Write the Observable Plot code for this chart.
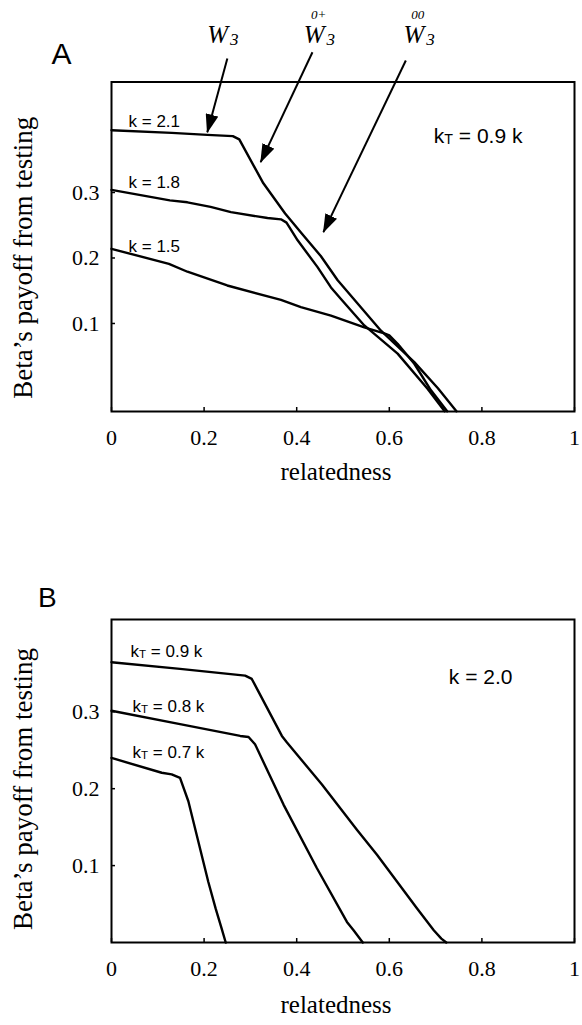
<!DOCTYPE html>
<html><head><meta charset="utf-8">
<script src="https://cdn.jsdelivr.net/npm/d3@7"></script>
<script src="https://cdn.jsdelivr.net/npm/@observablehq/plot@0.6"></script>
<style>
html,body{margin:0;padding:0;background:#fff;}
#chart svg{display:block;}
</style></head><body><div id="chart"></div>
<script>
// ---- tick labels ----
const xTicks = [0, 0.2, 0.4, 0.6, 0.8, 1];
const yTicks = [0.1, 0.2, 0.3];
const xTitle = "relatedness";
const yTitle = "Beta’s payoff from testing";

// ---- Panel A (kT = 0.9 k) : [relatedness, payoff] ----
const labelsA = ["k = 2.1", "k = 1.8", "k = 1.5"];
const aK21 = [[0,0.395],[0.13,0.391],[0.207,0.388],[0.262,0.386],[0.276,0.381],[0.328,0.314],[0.375,0.268],[0.41,0.238],[0.452,0.203],[0.4885,0.166],[0.582,0.089],[0.654,0.041],[0.705,0.001],[0.745,-0.034]];
const aK18 = [[0,0.304],[0.126,0.288],[0.164,0.285],[0.214,0.278],[0.258,0.270],[0.337,0.261],[0.366,0.259],[0.378,0.254],[0.402,0.227],[0.445,0.186],[0.474,0.155],[0.496,0.137],[0.546,0.097],[0.618,0.054],[0.683,0.0],[0.7195,-0.034]];
const aK15 = [[0,0.214],[0.124,0.191],[0.164,0.179],[0.25,0.158],[0.366,0.136],[0.409,0.125],[0.474,0.112],[0.546,0.094],[0.589,0.085],[0.600,0.0817],[0.618,0.069],[0.654,0.0385],[0.69,-0.002],[0.725,-0.034]];
const arrowLabelsA = ["W3", "W3", "W3"];
const arrowSupA = ["", "0+", "00"];

// ---- Panel B (k = 2.0) ----
const labelsB = ["kT = 0.9 k", "kT = 0.8 k", "kT = 0.7 k"];
const bT09 = [[0,0.3645],[0.148,0.3558],[0.2886,0.347],[0.303,0.3427],[0.368,0.2686],[0.379,0.260],[0.4545,0.2055],[0.530,0.1467],[0.5734,0.114],[0.66,0.0442],[0.696,0.016],[0.7124,0.005],[0.723,0]];
const bT08 = [[0,0.3013],[0.148,0.284],[0.278,0.2686],[0.296,0.2673],[0.310,0.2578],[0.3715,0.1793],[0.4437,0.0965],[0.5085,0.0268],[0.5228,0.016],[0.5427,0]];
const bT07 = [[0,0.240],[0.1085,0.2207],[0.130,0.2186],[0.148,0.214],[0.166,0.1837],[0.209,0.079],[0.225,0.044],[0.237,0.020],[0.2467,0]];

const serif = "Liberation Serif";
const sans = "Liberation Sans";

function panel(o) {
  const rows = [];
  o.series.forEach((s, i) => s.forEach(([x, y]) => rows.push({r: x, p: y, s: i})));
  const plotH = o.height - o.marginTop - o.marginBottom;
  const dyData = (o.yDomain[1] - o.yDomain[0]) / plotH * 4;
  const dxData = 1 / (582 - 111 - 8) * 4;
  return Plot.plot({
    width: 582, height: o.height,
    marginLeft: 111, marginRight: 8, marginTop: o.marginTop, marginBottom: o.marginBottom,
    x: {domain: [0, 1]},
    y: {domain: o.yDomain},
    style: {fontFamily: serif, fontSize: "22px", background: "white", color: "black", overflow: "visible"},
    marks: [
      Plot.ruleX(xTicks, {x: d => d, y1: o.yDomain[0], y2: o.yDomain[0] + dyData, strokeWidth: 1.5}),
      Plot.ruleY(yTicks, {y: d => d, x1: 0, x2: dxData, strokeWidth: 1.5}),
      Plot.axisX(xTicks, {tickSize: 0, tickPadding: 18, tickFormat: d => String(d), fontSize: 22, fontFamily: serif, label: null}),
      Plot.axisY(yTicks, {tickSize: 0, tickPadding: 12, tickFormat: d => String(d), fontSize: 22, fontFamily: serif, label: null}),
      Plot.text([xTitle], {frameAnchor: "bottom", dy: o.xTitleDy, dx: -7, fontSize: 25, fontFamily: serif}),
      Plot.text([yTitle], {frameAnchor: "left", textAnchor: "middle", rotate: -90, dx: -88, dy: o.yTitleDy, fontSize: 27, fontFamily: serif}),
      Plot.line(rows, {x: "r", y: "p", z: "s", stroke: "black", strokeWidth: 2.4}),
      Plot.frame({stroke: "black", strokeWidth: 2}),
      ...o.extra
    ]
  });
}

const svgA = panel({
  height: 505, marginTop: 81.5, marginBottom: 94,
  yDomain: [-0.0344, 0.4687],
  series: [aK21, aK18, aK15],
  xTitleDy: 68, yTitleDy: 11,
  extra: [
    Plot.text(labelsA, {x: 0.0368, y: (d, i) => [0.4084, 0.3145, 0.2176][i], text: d => d, textAnchor: "start", fontSize: 17, fontFamily: sans}),
    Plot.text(["kT = 0.9 k"], {x: 0.696, y: 0.3855, textAnchor: "start", fontSize: 21, fontFamily: sans}),
    Plot.text(["A"], {x: -0.108, y: 0.5107, fontSize: 30, fontFamily: sans}),
    Plot.text(arrowLabelsA, {x: (d, i) => [0.2069, 0.4151, 0.6307][i], y: 0.5397, text: d => d, textAnchor: "start", fontSize: 25, fontFamily: serif, fontStyle: "italic"}),
    Plot.text(arrowSupA, {x: (d, i) => [0, 0.4476, 0.6616][i], y: 0.5718, text: d => d, fontSize: 13, fontFamily: serif, fontStyle: "italic"}),
    Plot.link([0, 1, 2], {
      x1: i => [0.2502, 0.434, 0.6357][i], y1: i => [0.5046, 0.5142, 0.5015][i],
      x2: i => [0.2069, 0.3222, 0.4577][i], y2: i => [0.392, 0.3463, 0.2394][i],
      stroke: "black", strokeWidth: 2
    })
  ]
});

const svgB = panel({
  height: 520, marginTop: 114, marginBottom: 83,
  yDomain: [0, 0.42],
  series: [bT09, bT08, bT07],
  xTitleDy: 70, yTitleDy: 8,
  extra: [
    Plot.text(labelsB, {x: (d, i) => [0.0411, 0.0454, 0.0454][i], y: (d, i) => [0.3784, 0.3069, 0.2471][i], text: d => d, textAnchor: "start", fontSize: 17, fontFamily: sans}),
    Plot.text(["k = 2.0"], {x: 0.7286, y: 0.3446, textAnchor: "start", fontSize: 21, fontFamily: sans}),
    Plot.text(["B"], {x: -0.1384, y: 0.4473, fontSize: 28, fontFamily: sans})
  ]
});

function richText(svg, id) {
  const s = d3.select(svg);
  s.selectAll("text").each(function () {
    const t = this.textContent;
    const el = d3.select(this);
    if (t.startsWith("kT")) {
      const rest = t.slice(2);
      el.text("k");
      el.append("tspan").attr("font-size", "0.68em").attr("dy", "1").text("T");
      el.append("tspan").attr("dy", "-1").text(rest);
    } else if (t === "W3") {
      el.text("W");
      el.append("tspan").attr("font-size", "17px").attr("dx", "2").attr("dy", "2").text("3");
    }
  });
  const links = s.selectAll('g[aria-label="link"] path');
  if (!links.empty()) {
    const defs = s.insert("defs", ":first-child");
    defs.append("marker").attr("id", id).attr("viewBox", "0 0 19 13")
      .attr("refX", 18).attr("refY", 6.5).attr("markerWidth", 19).attr("markerHeight", 13)
      .attr("markerUnits", "userSpaceOnUse").attr("orient", "auto")
      .append("path").attr("d", "M0,0L19,6.5L0,13Z").attr("fill", "black");
    links.attr("marker-end", `url(#${id})`);
  }
}
richText(svgA, "headA");
richText(svgB, "headB");
document.getElementById("chart").append(svgA, svgB);
</script></body></html>
